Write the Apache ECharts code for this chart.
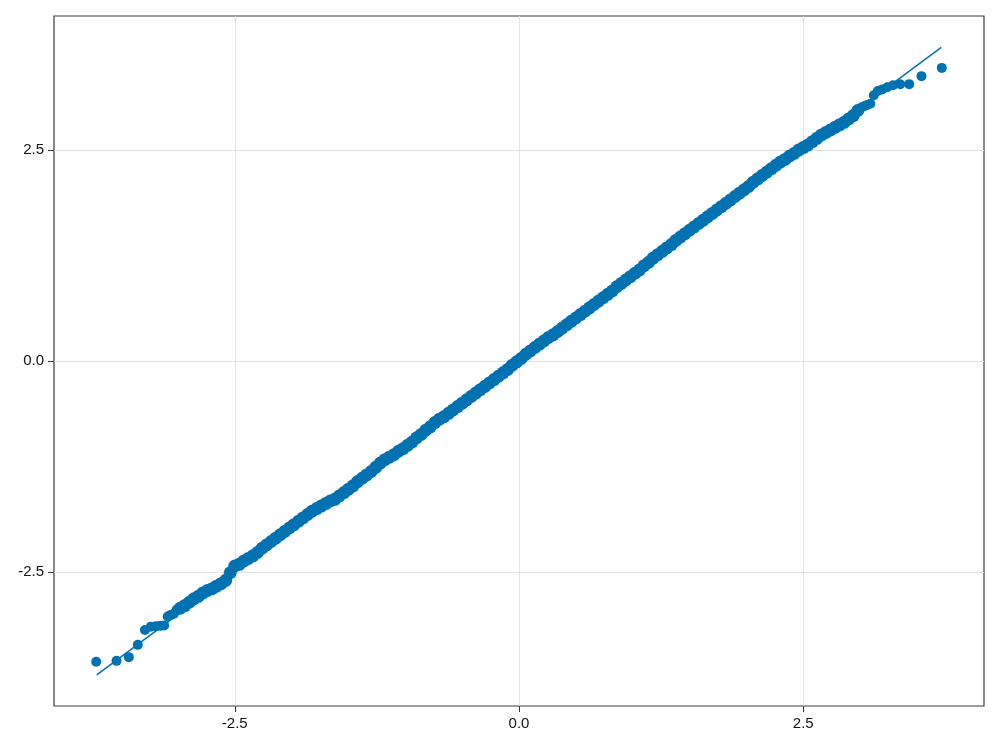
<!DOCTYPE html>
<html>
<head>
<meta charset="utf-8">
<script src="https://cdn.jsdelivr.net/npm/echarts@6/dist/echarts.min.js"></script>
<style>
html,body{margin:0;padding:0;background:#fff;}
#chart{width:1000px;height:750px;}
</style>
</head>
<body>
<div id="chart"></div>
<script>
// Theoretical normal quantiles (x) and sorted sample values (y)
var lowerTailX = [-3.719, -3.540, -3.432, -3.353, -3.290, -3.239, -3.195, -3.156, -3.121, -3.090, -3.062, -3.036, -3.011];
var lowerTailY = [-3.566, -3.555, -3.511, -3.365, -3.19, -3.15, -3.145, -3.14, -3.135, -3.03, -3.01, -2.995, -2.95];

var midX = [-2.98,-2.94,-2.90,-2.86,-2.82,-2.78,-2.74,-2.70,-2.66,-2.62,-2.58,-2.54,-2.50,-2.46,-2.42,-2.38,-2.34,-2.30,-2.26,-2.22,
  -2.18,-2.14,-2.10,-2.06,-2.02,-1.98,-1.94,-1.90,-1.86,-1.82,-1.78,-1.74,-1.70,-1.66,-1.62,-1.58,-1.54,-1.50,-1.46,-1.42,
  -1.38,-1.34,-1.30,-1.26,-1.22,-1.18,-1.14,-1.10,-1.06,-1.02,-0.98,-0.94,-0.90,-0.86,-0.82,-0.78,-0.74,-0.70,-0.66,-0.62,
  -0.58,-0.54,-0.50,-0.46,-0.42,-0.38,-0.34,-0.30,-0.26,-0.22,-0.18,-0.14,-0.10,-0.06,-0.02,0.02,0.06,0.10,0.14,0.18,
  0.22,0.26,0.30,0.34,0.38,0.42,0.46,0.50,0.54,0.58,0.62,0.66,0.70,0.74,0.78,0.82,0.86,0.90,0.94,0.98,
  1.02,1.06,1.10,1.14,1.18,1.22,1.26,1.30,1.34,1.38,1.42,1.46,1.50,1.54,1.58,1.62,1.66,1.70,1.74,1.78,
  1.82,1.86,1.90,1.94,1.98,2.02,2.06,2.10,2.14,2.18,2.22,2.26,2.30,2.34,2.38,2.42,2.46,2.50,2.54,2.58,
  2.62,2.66,2.70,2.74,2.78,2.82,2.86,2.90,2.94,2.98];
var midY = [-2.93,-2.90,-2.86,-2.82,-2.79,-2.75,-2.72,-2.70,-2.67,-2.64,-2.60,-2.51,-2.43,-2.41,-2.37,-2.34,-2.31,-2.27,-2.22,-2.18,
  -2.14,-2.10,-2.06,-2.02,-1.98,-1.94,-1.90,-1.86,-1.82,-1.78,-1.75,-1.72,-1.69,-1.66,-1.64,-1.60,-1.56,-1.52,-1.48,-1.43,
  -1.39,-1.35,-1.31,-1.26,-1.21,-1.17,-1.14,-1.11,-1.07,-1.04,-1.00,-0.96,-0.91,-0.87,-0.82,-0.78,-0.73,-0.69,-0.66,-0.62,
  -0.58,-0.54,-0.50,-0.46,-0.42,-0.38,-0.34,-0.30,-0.26,-0.22,-0.18,-0.14,-0.10,-0.05,-0.01,0.03,0.08,0.12,0.16,0.20,
  0.24,0.28,0.31,0.35,0.39,0.43,0.47,0.51,0.55,0.59,0.63,0.67,0.71,0.75,0.79,0.83,0.88,0.92,0.96,1.00,
  1.04,1.08,1.13,1.17,1.22,1.26,1.30,1.34,1.38,1.43,1.47,1.51,1.55,1.59,1.63,1.67,1.71,1.75,1.79,1.83,
  1.87,1.91,1.95,1.99,2.03,2.07,2.12,2.16,2.20,2.24,2.28,2.32,2.36,2.39,2.43,2.46,2.50,2.53,2.56,2.60,
  2.64,2.68,2.71,2.74,2.77,2.80,2.83,2.87,2.91,2.97];

var upperTailX = [3.011, 3.036, 3.062, 3.090, 3.121, 3.156, 3.195, 3.239, 3.290, 3.353, 3.432, 3.540, 3.719];
var upperTailY = [3.005, 3.02, 3.035, 3.05, 3.15, 3.20, 3.22, 3.245, 3.27, 3.28, 3.282, 3.377, 3.475];

// Reference (fit) line end points
var lineX = [-3.714, 3.714];
var lineY = [-3.72, 3.717];

// Tick labels
var tickValues = [-2.5, 0, 2.5];
var tickLabels = ['-2.5', '0.0', '2.5'];

function pairs(xs, ys) { return xs.map(function (x, i) { return [x, ys[i]]; }); }
var tailPoints = pairs(lowerTailX, lowerTailY).concat(pairs(upperTailX, upperTailY));
var bandPoints = pairs(midX, midY);

var chart = echarts.init(document.getElementById('chart'), null, {renderer: 'canvas'});
var axisCommon = function () {
  return {
    type: 'value',
    min: -4.09,
    max: 4.09,
    axisLine: {show: false, onZero: false},
    axisTick: {show: true, inside: false, length: 6, customValues: tickValues, lineStyle: {color: '#333', width: 1}},
    axisLabel: {
      customValues: tickValues,
      margin: 10,
      color: '#111',
      fontFamily: 'Liberation Sans, Arial, sans-serif',
      fontSize: 15,
      formatter: function (v) { var i = tickValues.indexOf(v); return i >= 0 ? tickLabels[i] : v.toFixed(1); }
    },
    splitLine: {show: true, lineStyle: {color: '#e3e3e3', width: 1}}
  };
};

chart.setOption({
  animation: false,
  backgroundColor: '#ffffff',
  grid: {left: 54, right: 16, top: 16, bottom: 44, show: true, borderColor: '#3a3a3a', borderWidth: 1.2, backgroundColor: 'transparent'},
  xAxis: axisCommon(),
  yAxis: axisCommon(),
  series: [
    {
      type: 'line',
      data: pairs(lineX, lineY),
      showSymbol: false,
      symbol: 'none',
      lineStyle: {color: '#0072B2', width: 1.5},
      z: 1
    },
    {
      type: 'scatter',
      data: bandPoints,
      symbolSize: 13,
      itemStyle: {color: '#0072B2', opacity: 1},
      z: 2
    },
    {
      type: 'scatter',
      data: tailPoints,
      symbolSize: 10,
      itemStyle: {color: '#0072B2', opacity: 1},
      z: 2
    }
  ]
});
</script>
</body>
</html>
